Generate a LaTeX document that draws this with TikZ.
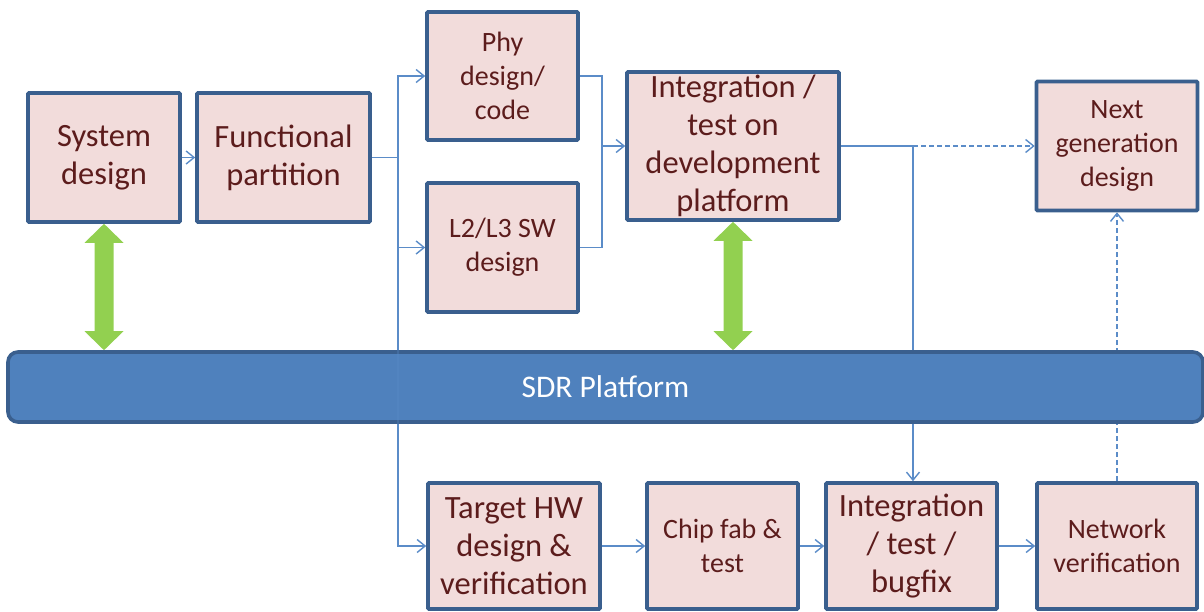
\documentclass[tikz,border=0pt]{standalone}
\usepackage{fontspec}
\setmainfont{Carlito}
\usetikzlibrary{calc,arrows.meta}
\pgfdeclarelayer{background}
\pgfsetlayers{background,main}

\definecolor{boxfill}{HTML}{F2DCDB}
\definecolor{boxline}{HTML}{3A5F8E}
\definecolor{boxtext}{HTML}{5C1C1C}
\definecolor{linkblue}{HTML}{5B8CC8}
\definecolor{barfill}{HTML}{4F81BD}
\definecolor{barline}{HTML}{3A5F8E}
\definecolor{syncgreen}{HTML}{92D050}

\tikzset{
  stage/.style={draw=boxline, fill=boxfill, line width=3.6pt, text=boxtext,
    align=center, inner sep=0pt, rounded corners=1pt},
  big/.style={font=\fontsize{32.5}{38}\selectfont},
  small/.style={font=\fontsize{28}{34}\selectfont},
  wire/.style={draw=linkblue, line width=1.4pt},
  link/.style={wire, -{Straight Barb[length=8pt,width=13pt,line width=1.4pt]}},
}

% double-headed block arrow between two points (top tip, bottom tip)
\newcommand\syncarrow[2]{%
  \fill[syncgreen] (#1) -- ++(19.5,19) -- ++(-10,0) -- ($(#2)+(9.5,-19)$)
    -- ++(10,0) -- (#2) -- ++(-19.5,-19) -- ++(10,0)
    -- ($(#1)+(-9.5,19)$) -- ++(-10,0) -- cycle;}

\begin{document}
\begin{tikzpicture}[x=1pt,y=-1pt]
\useasboundingbox (0,0) rectangle (1204,611);

% upper row
\node[stage, big, minimum width=152pt, minimum height=129pt] (sys) at (104,157.5) {System\\design};
\node[stage, big, minimum width=173pt, minimum height=129pt] (func) at (283.5,157.5) {Functional\\partition};
\node[stage, small, minimum width=151pt, minimum height=128pt] (phy) at (502.5,76) {Phy\\design/\\code};
\node[stage, small, minimum width=151pt, minimum height=129pt] (l2) at (502.5,247.5) {L2/L3 SW\\design};
\node[stage, big, minimum width=212pt, minimum height=148pt] (integ) at (733,146) {Integration /\\test on\\development\\platform};
\node[stage, small, minimum width=161pt, minimum height=129pt] (next) at (1117,146) {Next\\generation\\design};

% platform bar
\node[draw=barline, fill=barfill, line width=3.6pt, rounded corners=10pt,
  minimum width=1195pt, minimum height=70pt, text=white,
  font=\fontsize{31.5}{36}\selectfont] (sdr) at (605.5,387) {SDR Platform};

% lower row
\node[stage, big, minimum width=172pt, minimum height=126pt] (hw) at (514,546) {Target HW\\design \&\\verification};
\node[stage, small, minimum width=151pt, minimum height=126pt] (chip) at (722.5,546) {Chip fab \&\\test};
\node[stage, big, minimum width=171pt, minimum height=126pt] (integ2) at (911.5,546) {Integration\\/ test /\\bugfix};
\node[stage, small, minimum width=160pt, minimum height=126pt] (net) at (1117,546) {Network\\verification};

\coordinate (split) at (398,157.5);
\coordinate (merge) at (602,146);
\coordinate (fork) at (913,146);

\begin{pgfonlayer}{background}
  \draw[link] (sys) -- (func);
  \draw[wire] (func.east) -- (split);
  \draw[link] (split) |- (phy.west);
  \draw[link] (split) |- (l2.west);
  \draw[link] (split) |- (hw.west);
  \draw[wire] (phy.east) -| (merge);
  \draw[wire] (l2.east) -| (merge);
  \draw[link] (merge) -- (integ.west);
  \draw[wire] (integ.east) -- (fork);
  \draw[link, dashed, dash pattern=on 5pt off 3pt] (fork) -- (next.west);
  \draw[link] (fork) -- (fork |- integ2.north);
  \draw[link, dashed, dash pattern=on 5pt off 3pt] (net.north) -- (next.south);
  \draw[link] (hw) -- (chip);
  \draw[link] (chip) -- (integ2);
  \draw[link] (integ2) -- (net);
\end{pgfonlayer}

% the feed line shows faintly through the bar
\draw[wire, opacity=0.3] (sdr.north -| split) -- (sdr.south -| split);

% links to the platform
\coordinate (g1) at (sys.south |- sdr.north);
\coordinate (g2) at (integ.south |- sdr.north);
\syncarrow{sys.south}{g1}
\syncarrow{integ.south}{g2}
\end{tikzpicture}
\end{document}
